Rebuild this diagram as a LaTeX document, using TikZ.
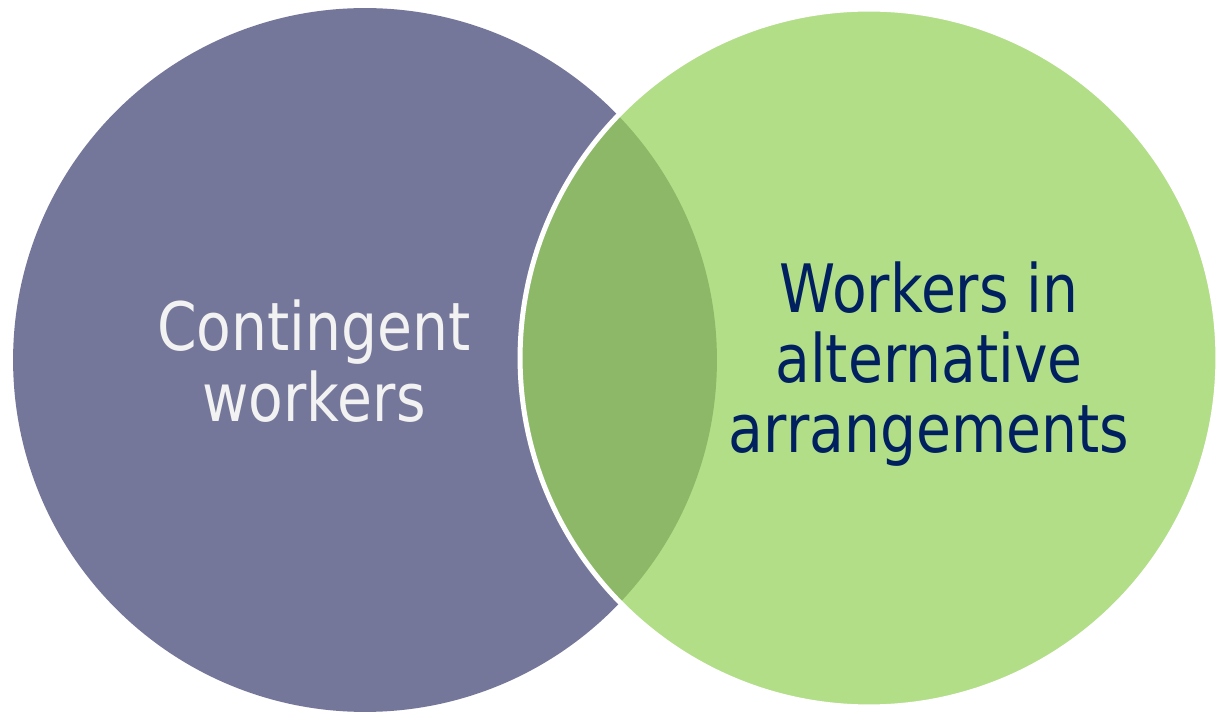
\documentclass[tikz,border=0pt]{standalone}
\usepackage{fontspec}
\newfontfamily\vennfont{DejaVu Sans}[FakeStretch=0.85]
\definecolor{slate}{HTML}{75779A}
\definecolor{leaf}{HTML}{B2DE88}
\definecolor{moss}{HTML}{8DB868}
\definecolor{navy}{HTML}{002060}
\begin{document}
\begin{tikzpicture}[x=0.02cm,y=0.02cm,
   every node/.style={font=\vennfont\fontsize{38}{40}\selectfont,align=center},
   setlabel/.style={anchor=center}]
\useasboundingbox (0,0) rectangle (1216,713);
\coordinate (cont) at (365,353);
\coordinate (alt) at (869,355);
\fill[slate] (cont) circle [radius=7.04cm];
\fill[leaf] (alt) circle [radius=6.98cm];
\begin{scope}
  \clip (cont) circle [radius=7.04cm];
  \fill[moss] (alt) circle [radius=6.98cm];
\end{scope}
\draw[white,line width=0.1cm] (alt) circle [radius=6.98cm];
\node[setlabel,text=white!95!black] (contlabel) at (314,352) {Contingent\\workers};
\node[setlabel,text=navy] (altlabel) at (929,349) {Workers in\\alternative\\arrangements};
\end{tikzpicture}
\end{document}
